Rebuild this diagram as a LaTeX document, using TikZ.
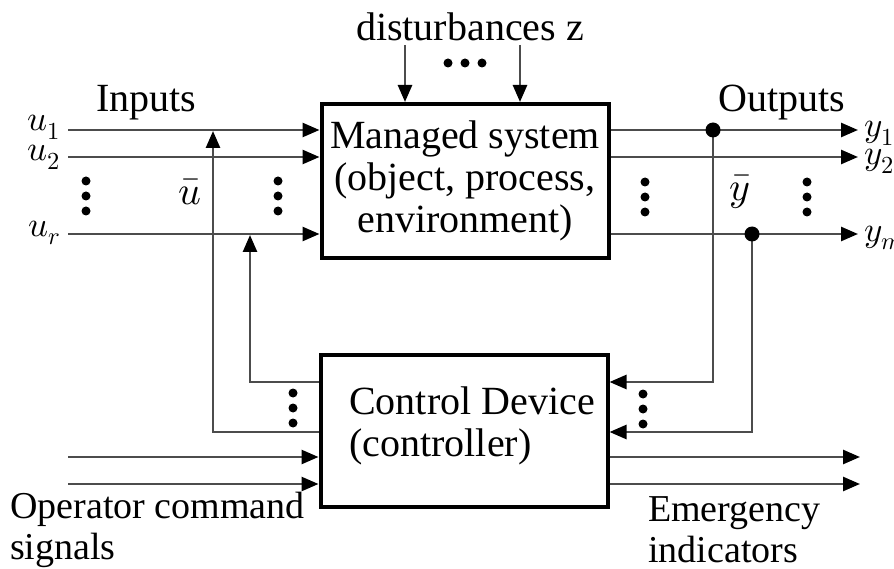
\documentclass[tikz,border=0pt]{standalone}
\usepackage{unicode-math}
\setmainfont{Liberation Serif}
\setmathfont{Latin Modern Math}
\usetikzlibrary{arrows.meta}
\tikzset{
  block/.style={draw=black, line width=4pt, minimum width=287pt, inner sep=0pt, align=center},
  sig/.style={draw=black!70, line width=2.6pt, -{Triangle[length=17pt,width=14pt,black]}},
  txt/.style={inner sep=0pt, align=left},
  var/.style={inner sep=0pt, font=\fontsize{35}{40}\selectfont},
  vdts/.pic={\foreach \d in {-15,0,15} \fill (0,\d) circle (4.5pt);},
  hdts/.pic={\foreach \d in {-17,0,17} \fill (\d,0) circle (4.5pt);}
}
\begin{document}
\begin{tikzpicture}[x=1pt,y=-1pt,font=\fontsize{40}{42}\selectfont]
\useasboundingbox (0,0) rectangle (894,569);
\node[block, minimum height=154pt] (msys) at (465,181) {Managed system\\(object, process,\\environment)};
\node[block, minimum height=152pt] (ctrl) at (464,431) {};
\node[txt] (ctrltxt) at (472,426) {Control Device\\(controller)};
\coordinate (u1) at (68,130);
\coordinate (u2) at (68,157);
\coordinate (ur) at (68,234);
\coordinate (op1) at (68,457);
\coordinate (op2) at (68,484);
\coordinate (rowA) at (0,382);
\coordinate (rowB) at (0,432);
\coordinate (tapA) at (713,130);
\coordinate (tapB) at (752,234);
\coordinate (z1) at (405,45);
\coordinate (z2) at (520,45);
\node[var] (lu1) at (44,127) {$u_1$};
\node[var] (lu2) at (44,157) {$u_2$};
\node[var] (lur) at (44,233) {$u_r$};
\node[var, anchor=west] (ly1) at (864,133) {$y_1$};
\node[var, anchor=west] (ly2) at (864,161) {$y_2$};
\node[var, anchor=west] (lym) at (864,238) {$y_m$};
\node[txt] (inp) at (146,103) {Inputs};
\node[txt] (outp) at (782,103) {Outputs};
\node[txt] (dist) at (470,27) {disturbances z};
\node[txt] (ubar) at (190,192) {$\bar u$};
\node[txt] (ybar) at (740,192) {$\bar y$};
\node[txt, anchor=west, font=\fontsize{38}{41}\selectfont] (opcmd) at (10,530) {Operator command\\signals};
\node[txt, anchor=west, font=\fontsize{38}{41}\selectfont] (emerg) at (648,530) {Emergency\\indicators};
\foreach \c in {u1,u2,ur} \draw[sig] (\c) -- (msys.west |- \c);
\foreach \c in {u1,u2,ur} \draw[sig] (msys.east |- \c) -- (858,0 |- \c);
\foreach \c in {op1,op2} \draw[sig] (\c) -- (ctrl.west |- \c);
\foreach \c in {op1,op2} \draw[sig] (ctrl.east |- \c) -- (860,0 |- \c);
\foreach \c in {z1,z2} \draw[sig] (\c) -- (\c |- msys.north);
\draw[sig] (ctrl.west |- rowB) -| (213,131);
\draw[sig] (ctrl.west |- rowA) -| (250,235);
\draw[sig] (tapA) |- (ctrl.east |- rowA);
\draw[sig] (tapB) |- (ctrl.east |- rowB);
\fill (tapA) circle (7.5pt) (tapB) circle (7.5pt);
\pic at (86,196) {vdts};
\pic at (278,196) {vdts};
\pic at (645,197) {vdts};
\pic at (807,197) {vdts};
\pic at (293,408) {vdts};
\pic at (643,409) {vdts};
\pic at (465,63) {hdts};
\end{tikzpicture}
\end{document}
